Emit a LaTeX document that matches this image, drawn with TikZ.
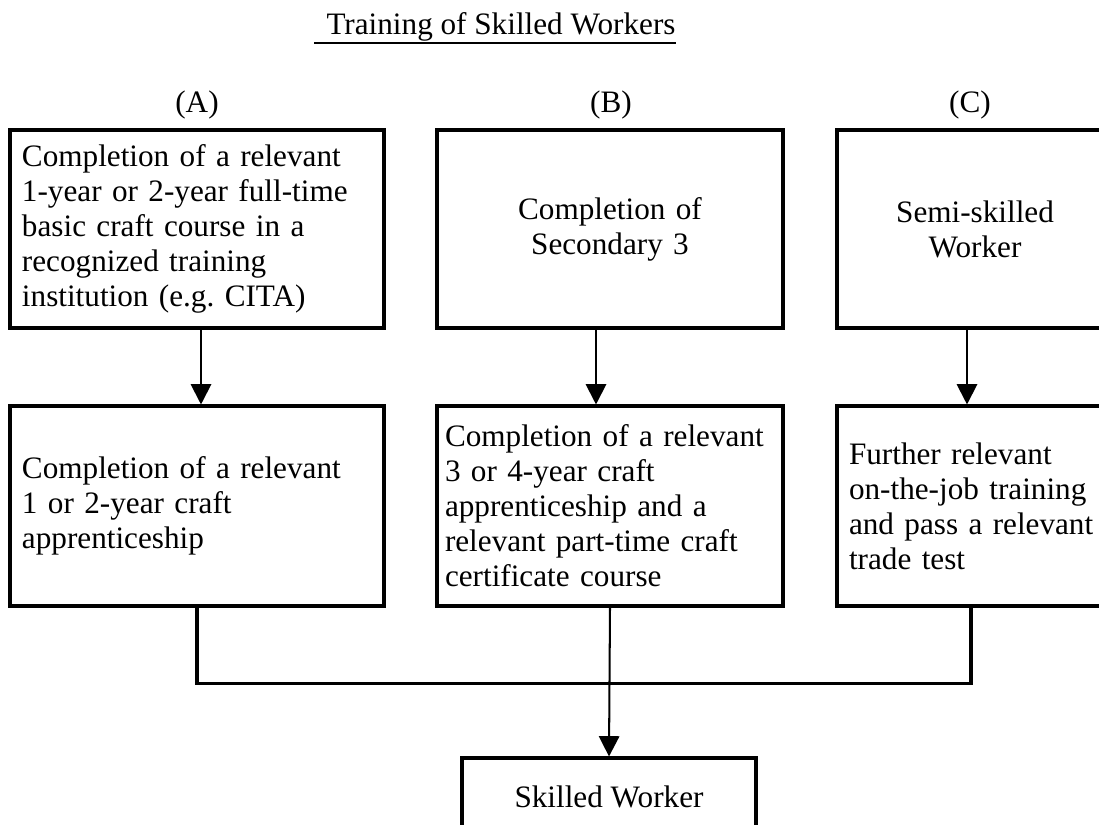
\documentclass[tikz,border=0pt,12pt]{standalone}
\usepackage{fontspec}
\setmainfont{Liberation Serif}
\usetikzlibrary{arrows.meta}
\newdimen\px \px=0.3943pt
\begin{document}
\begin{tikzpicture}[x=0.3943pt,y=-0.3943pt,line join=miter,
  font=\fontsize{12.3}{13.8}\selectfont,
  box/.style={draw,line width=1.2pt,inner xsep=12\px,inner ysep=0pt,align=left},
  midbox/.style={box,align=center},
  link/.style={line width=1.2pt},
  arr/.style={-{Triangle[length=8pt,width=8pt]},line width=0.8pt}]
\useasboundingbox (0,0) rectangle (1099,825);
\clip (0,0) rectangle (1099,825);
% title
\node[anchor=base west,inner sep=0pt] (title) at (326,35) {Training of Skilled Workers};
\draw[line width=0.8pt] ([xshift=-12\px,yshift=-8\px]title.base west) -- ([yshift=-8\px]title.base east);
% column heads
\node (la) at (197,105) {(A)};
\node (lb) at (611,105) {(B)};
\node (lc) at (970,105) {(C)};
% first row
\node[box,text width=350\px,minimum height=198\px] (a1) at (197,229)
  {Completion of a relevant\\1-year or 2-year full-time\\basic craft course in a\\recognized training\\institution (e.g.\ CITA)};
\node[midbox,text width=322\px,minimum height=198\px] (b1) at (610,229)
  {Completion of\\Secondary 3};
\node[midbox,text width=252\px,minimum height=198\px] (c1) at (975,229)
  {Semi-skilled\\Worker};
% second row
\node[box,text width=350\px,minimum height=200\px] (a2) at (197,506)
  {Completion of a relevant\\1 or 2-year craft\\apprenticeship};
\node[box,inner xsep=8\px,text width=330\px,minimum height=200\px] (b2) at (610,506)
  {Completion of a relevant\\3 or 4-year craft\\apprenticeship and a\\relevant part-time craft\\certificate course};
\node[box,text width=252\px,minimum height=200\px] (c2) at (975,506)
  {Further relevant\\on-the-job training\\and pass a relevant\\trade test};
% result
\node[midbox,minimum width=294\px,minimum height=78\px] (sw) at (609,797) {Skilled Worker};
% connectors
\draw[arr] ([xshift=4\px]a1.south) -- ([xshift=4\px]a2.north);
\draw[arr] ([xshift=-14\px]b1.south) -- ([xshift=-14\px]b2.north);
\draw[arr] ([xshift=-8\px]c1.south) -- ([xshift=-8\px]c2.north);
\draw[link] (a2.south) -- ++(0,76) -| ([xshift=-4\px]c2.south);
\draw[arr] (b2.south) -- (sw.north);
\end{tikzpicture}
\end{document}
